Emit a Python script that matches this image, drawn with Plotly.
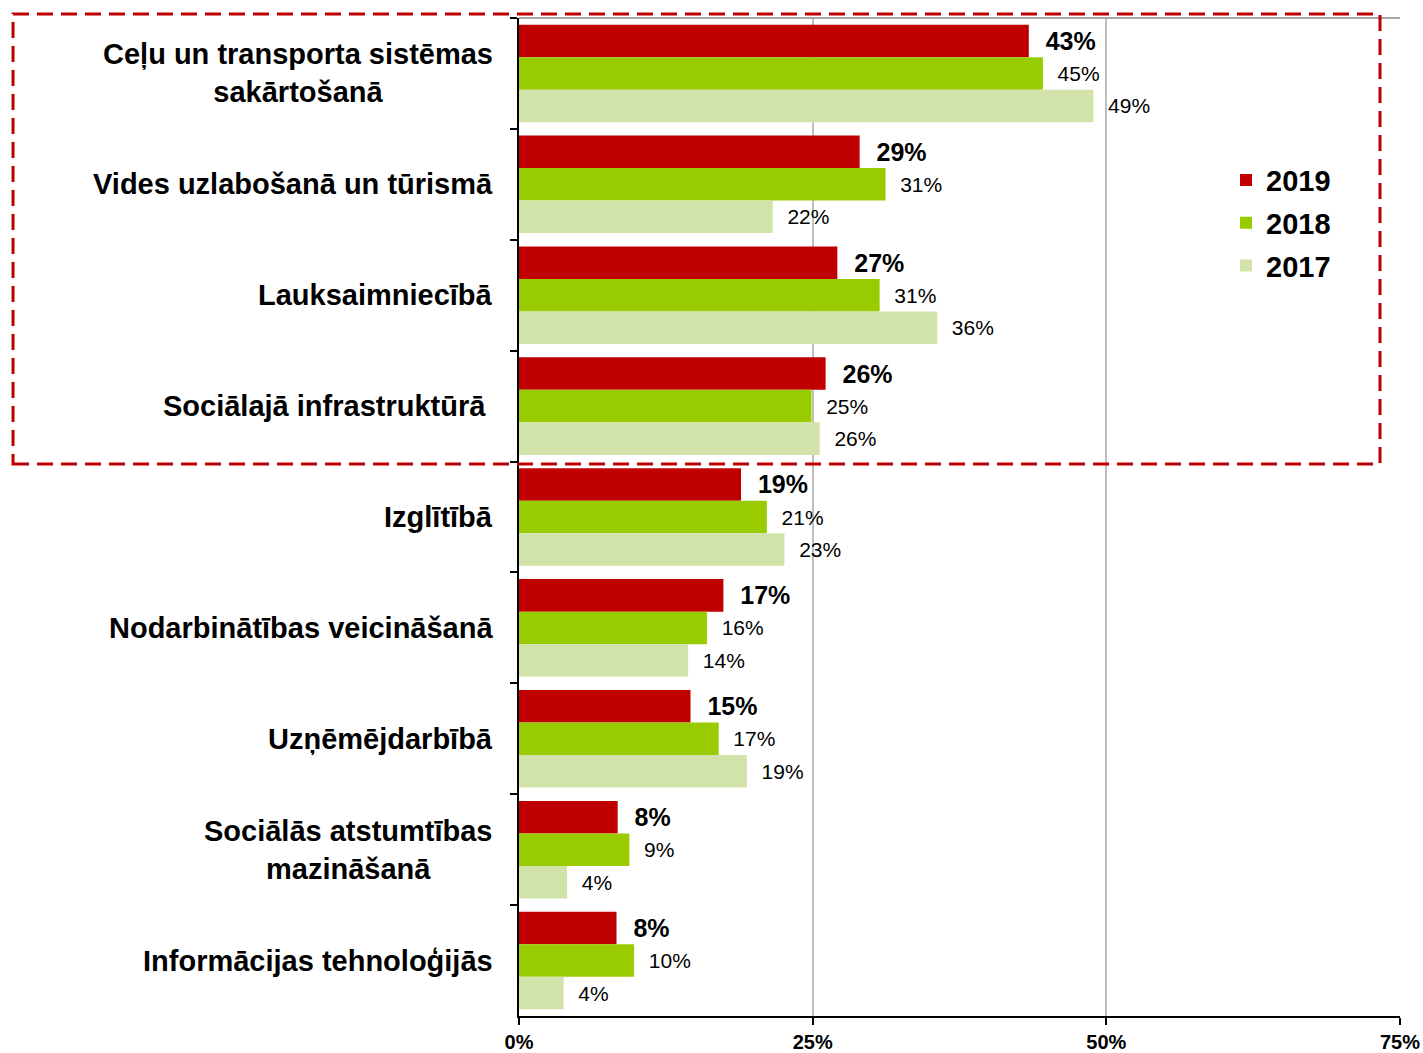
import plotly.graph_objects as go

categories = [
    "Ceļu un transporta sistēmas<br>sakārtošanā",
    "Vides uzlabošanā un tūrismā",
    "Lauksaimniecībā",
    "Sociālajā infrastruktūrā\u00a0",
    "Izglītībā",
    "Nodarbinātības veicināšanā",
    "Uzņēmējdarbībā",
    "Sociālās atstumtības<br>mazināšanā",
    "Informācijas tehnoloģijās",
]
v2019 = [43.4, 29.0, 27.1, 26.1, 18.9, 17.4, 14.6, 8.4, 8.3]
v2018 = [44.6, 31.2, 30.7, 24.9, 21.1, 16.0, 17.0, 9.4, 9.8]
v2017 = [48.9, 21.6, 35.6, 25.6, 22.6, 14.4, 19.4, 4.1, 3.8]
x_ticks = [0, 25, 50, 75]
x_tick_labels = ["0%", "25%", "50%", "75%"]

FONT = "Liberation Sans, Arial, sans-serif"
NB = "\u00a0\u00a0"

series = [
    ("2019", v2019, "#C00000", "<b>" + NB + "%{x:.0f}%</b>", 25),
    ("2018", v2018, "#99CC00", NB + "%{x:.0f}%", 21),
    ("2017", v2017, "#D1E3A8", NB + "%{x:.0f}%", 21),
]

fig = go.Figure()
for name, vals, color, tmpl, fs in series:
    fig.add_trace(go.Bar(
        y=categories, x=vals, name=name, orientation="h",
        marker=dict(color=color, line=dict(width=0)),
        texttemplate=tmpl, textposition="outside", constraintext="none",
        textfont=dict(family=FONT, size=fs, color="black"),
        cliponaxis=False, legendgroup=name, hoverinfo="x+name",
    ))

for cat in categories:
    fig.add_annotation(
        x=0, xref="paper", y=cat, yref="y", xanchor="right", xshift=-24,
        text="<b>" + cat + "</b>", showarrow=False, align="center",
        font=dict(family=FONT, size=29, color="black"),
    )

# plot-area top border
fig.add_shape(type="line", xref="paper", yref="paper", x0=0, x1=1, y0=1, y1=1,
              line=dict(color="#A6A6A6", width=2), layer="above")
# red dashed highlight box
fig.add_shape(type="rect", xref="paper", yref="paper",
              x0=-0.5743, x1=0.9773, y0=0.5531, y1=1.004,
              line=dict(color="#C00000", width=3, dash="16px,8px"), layer="above")

fig.update_layout(
    width=1423, height=1053,
    margin=dict(l=519, r=23, t=18, b=37, autoexpand=False),
    paper_bgcolor="white", plot_bgcolor="white",
    barmode="group", bargap=0.12, bargroupgap=0,
    font=dict(family=FONT, color="black"),
    legend=dict(
        x=0.8025, y=0.863, xanchor="left", yanchor="top",
        font=dict(family=FONT, size=29, color="black", weight="bold"),
        traceorder="grouped", tracegroupgap=2, bgcolor="rgba(0,0,0,0)",
    ),
    showlegend=True,
)
fig.update_xaxes(
    range=[0, 75], tickvals=x_ticks, ticktext=x_tick_labels, automargin=False,
    showgrid=True, gridcolor="#BFBFBF", gridwidth=1.5, zeroline=False,
    showline=True, linecolor="black", linewidth=2,
    ticks="outside", ticklen=7, tickcolor="black", tickwidth=2,
    tickfont=dict(family=FONT, size=20, color="black", weight="bold"),
)
fig.update_yaxes(
    autorange="reversed", showticklabels=False, automargin=False,
    showline=True, linecolor="black", linewidth=2,
    ticks="outside", tickson="boundaries", ticklen=7, tickcolor="black", tickwidth=2,
    showgrid=False,
)

fig.write_html("out.html", config={"displayModeBar": False},
               post_script="document.body.style.margin='0';")
